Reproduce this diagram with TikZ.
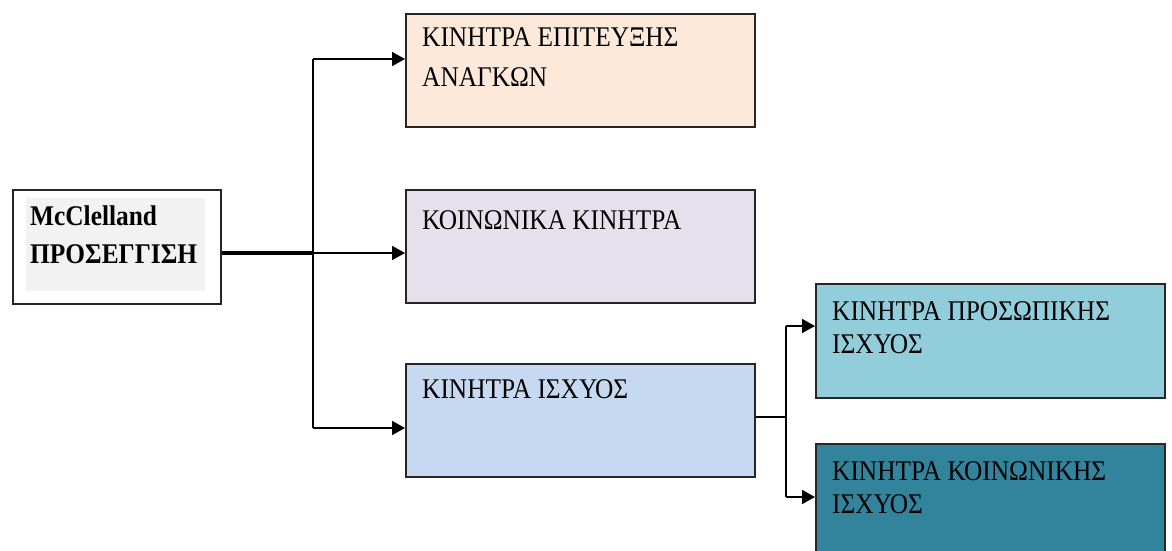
\documentclass[tikz,border=0pt]{standalone}
\usepackage{fontspec}
\setmainfont{Liberation Serif}[FakeStretch=0.89]
\usetikzlibrary{arrows.meta}
\definecolor{peach}{HTML}{FDE9D9}
\definecolor{lav}{HTML}{E5E0EC}
\definecolor{lblue}{HTML}{C6D9F1}
\definecolor{sky}{HTML}{92CDDC}
\definecolor{teal}{HTML}{31849B}
\definecolor{grayin}{HTML}{F2F2F2}
\tikzset{
  box/.style={draw=black!85, line width=1.8pt, rectangle, inner sep=0pt, anchor=north west},
  txt/.style={anchor=base west, inner sep=0pt, font=\fontsize{28.5}{34}\selectfont},
  btxt/.style={anchor=base west, inner sep=0pt, font=\fontsize{28.5}{34}\selectfont\bfseries},
  conn/.style={line width=1.8pt, -{Triangle[length=13pt,width=14pt]}},
  line/.style={line width=1.8pt}
}
\begin{document}
\begin{tikzpicture}[x=1pt,y=-1pt]
\clip (0,0) rectangle (1172,551);
\fill[white] (0,0) rectangle (1172,551);
% McClelland box
\node[box, fill=white, minimum width=208pt, minimum height=114pt] (mc) at (12,189) {};
\node[anchor=north west, fill=grayin, minimum width=179pt, minimum height=93pt, inner sep=0pt] (mcin) at (26,198) {};
\node[btxt] (mct1) at (30,225) {McClelland};
\node[btxt] (mct2) at (30,263) {ΠΡΟΣΕΓΓΙΣΗ};
% level 1 boxes
\node[box, fill=peach, minimum width=349pt, minimum height=113pt] (b1) at (405,13) {};
\node[txt] (t1a) at (422,47) {ΚΙΝΗΤΡΑ ΕΠΙΤΕΥΞΗΣ};
\node[txt] (t1b) at (422,86) {ΑΝΑΓΚΩΝ};
\node[box, fill=lav, minimum width=349pt, minimum height=113pt] (b2) at (405,189) {};
\node[txt] (t2) at (422,229) {ΚΟΙΝΩΝΙΚΑ ΚΙΝΗΤΡΑ};
\node[box, fill=lblue, minimum width=349pt, minimum height=113pt] (b3) at (405,363) {};
\node[txt] (t3) at (422,398) {ΚΙΝΗΤΡΑ ΙΣΧΥΟΣ};
% level 2 boxes
\node[box, fill=sky, minimum width=349pt, minimum height=114pt] (b4) at (815,283) {};
\node[txt] (t4a) at (832,320) {ΚΙΝΗΤΡΑ ΠΡΟΣΩΠΙΚΗΣ};
\node[txt] (t4b) at (832,353) {ΙΣΧΥΟΣ};
\node[box, fill=teal, minimum width=349pt, minimum height=120pt] (b5) at (815,443) {};
\node[txt] (t5a) at (832,480) {ΚΙΝΗΤΡΑ ΚΟΙΝΩΝΙΚΗΣ};
\node[txt] (t5b) at (832,513) {ΙΣΧΥΟΣ};
% connectors
\coordinate (j1) at (313,253);
\draw[line width=3.2pt] (mc.east |- j1) -- (j1);
\draw[line] (313,59) -- (313,428);
\draw[conn] (313,59) -- (b1.west |- 0,59);
\draw[conn] (j1) -- (b2.west |- j1);
\draw[conn] (313,428) -- (b3.west |- 0,428);
\coordinate (j2) at (786,417);
\draw[line] (b3.east |- j2) -- (j2);
\draw[line] (786,326) -- (786,497);
\draw[conn] (786,326) -- (b4.west |- 0,326);
\draw[conn] (786,497) -- (b5.west |- 0,497);
\end{tikzpicture}
\end{document}
